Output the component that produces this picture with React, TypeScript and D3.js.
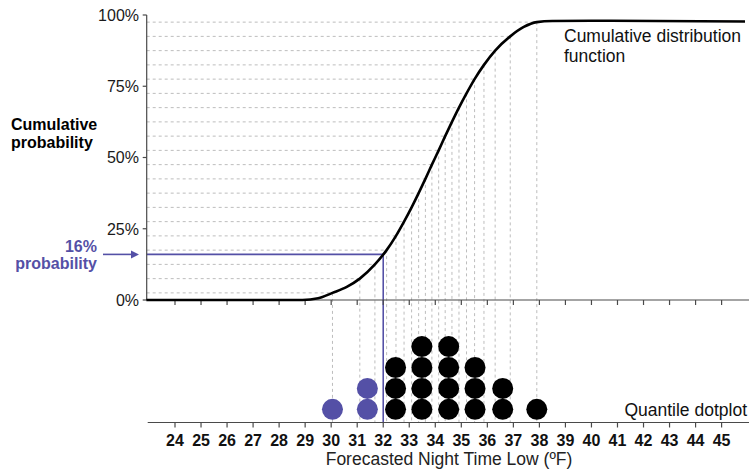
import React from "react";
import * as d3 from "d3";

// ---- data ----
const xTickValues = [24, 25, 26, 27, 28, 29, 30, 31, 32, 33, 34, 35, 36, 37, 38, 39, 40, 41, 42, 43, 44, 45];
const yTickValues = [0, 0.25, 0.5, 0.75, 1];
const yTickLabels = ["0%", "25%", "50%", "75%", "100%"];

// 20 quantiles (probability levels and temperatures)
const quantileProbs = [0.025, 0.075, 0.125, 0.175, 0.225, 0.275, 0.325, 0.375, 0.425, 0.475,
  0.525, 0.575, 0.625, 0.675, 0.725, 0.775, 0.825, 0.875, 0.925, 0.975];
const quantileTemps = [30.05, 31.1, 31.68, 32.13, 32.49, 32.8, 33.09, 33.36, 33.62, 33.87,
  34.13, 34.38, 34.64, 34.91, 35.2, 35.51, 35.87, 36.3, 36.88, 37.9];

// CDF curve points
const cdfTemps = [22.9, 28.9, 29.5, 30.05, 30.6, 31.1, 31.68, 32.13, 32.49, 32.8, 33.09, 33.36, 33.62, 33.87,
  34.13, 34.38, 34.64, 34.91, 35.2, 35.51, 35.87, 36.3, 36.88, 37.4, 37.9, 38.5, 40, 45.9];
const cdfProbs = [0, 0, 0.006, 0.025, 0.046, 0.075, 0.125, 0.175, 0.225, 0.275, 0.325, 0.375, 0.425, 0.475,
  0.525, 0.575, 0.625, 0.675, 0.725, 0.775, 0.825, 0.875, 0.925, 0.958, 0.975, 0.979, 0.98, 0.977];

// dots per column of the quantile dotplot
const dotCounts = [1, 2, 3, 4, 4, 3, 2, 1];

const thresholdTemp = 32;
const thresholdProb = 0.16;

// ---- layout ----
const W = 749;
const H = 471;
const axisX = 146.7;
const topAxisY = 300;
const bottomAxisY = 422.5;
const rightEdge = 749;
const dotR = 10.5;
const dotStep = 20.9;

const BLUE = "#5450a6";
const GRID = "#bdbdbd";
const AXIS = "#4a4a4a";
const FONT = "'Liberation Sans', Arial, Helvetica, sans-serif";

export default function App() {
  const x = d3.scaleLinear().domain([24, 45]).range([175, 721.6]);
  const y = d3.scaleLinear().domain([0, 1]).range([topAxisY, 15]);

  const cdfPts: [number, number][] = cdfTemps.map((t, i) => [t, cdfProbs[i]]);
  const line = d3
    .line<[number, number]>()
    .x((d) => x(d[0]))
    .y((d) => y(d[1]))
    .curve(d3.curveMonotoneX);

  // group quantiles into dot columns
  const columns: { temp: number; count: number; blue: boolean }[] = [];
  let k = 0;
  dotCounts.forEach((c) => {
    const vals = quantileTemps.slice(k, k + c);
    k += c;
    columns.push({
      temp: d3.mean(vals) as number,
      count: c,
      blue: vals.every((v) => v < thresholdTemp),
    });
  });

  const bottomRowY = bottomAxisY - 13.2;

  return (
    <svg
      width={W}
      height={H}
      style={{ position: "absolute", left: 0, top: 0, background: "#fff" }}
      fontFamily={FONT}
    >
      <rect width={W} height={H} fill="#fff" />
      {/* horizontal dashed lines from axis to curve */}
      {quantileProbs.map((p, i) => (
        <line
          key={"h" + i}
          x1={axisX}
          x2={x(quantileTemps[i])}
          y1={y(p)}
          y2={y(p)}
          stroke={GRID}
          strokeWidth={1}
          strokeDasharray="3,3"
        />
      ))}
      {/* vertical dashed lines from curve down to bottom axis */}
      {quantileProbs.map((p, i) => (
        <line
          key={"v" + i}
          x1={x(quantileTemps[i])}
          x2={x(quantileTemps[i])}
          y1={y(p)}
          y2={bottomAxisY}
          stroke={GRID}
          strokeWidth={1}
          strokeDasharray="3,3"
        />
      ))}

      {/* blue threshold lines */}
      <line x1={axisX} x2={x(thresholdTemp)} y1={y(thresholdProb)} y2={y(thresholdProb)} stroke={BLUE} strokeWidth={1.6} />
      <line x1={x(thresholdTemp)} x2={x(thresholdTemp)} y1={y(thresholdProb)} y2={bottomAxisY} stroke={BLUE} strokeWidth={1.6} />

      {/* y axis */}
      <line x1={axisX} x2={axisX} y1={y(1)} y2={topAxisY} stroke={AXIS} strokeWidth={1.2} />
      {yTickValues.map((v, i) => (
        <g key={"yt" + i}>
          <line x1={axisX - 4} x2={axisX} y1={y(v)} y2={y(v)} stroke={AXIS} strokeWidth={1.2} />
          <text x={139} y={y(v)} dy="0.36em" textAnchor="end" fontSize={16} fill="#1a1a1a">
            {yTickLabels[i]}
          </text>
        </g>
      ))}

      {/* top x axis */}
      <line x1={axisX} x2={rightEdge} y1={topAxisY} y2={topAxisY} stroke={AXIS} strokeWidth={1.2} />
      {xTickValues.map((v) => (
        <line key={"tt" + v} x1={x(v)} x2={x(v)} y1={topAxisY} y2={topAxisY + 5} stroke={AXIS} strokeWidth={1.2} />
      ))}

      {/* bottom x axis */}
      <line x1={axisX + 1} x2={rightEdge} y1={bottomAxisY} y2={bottomAxisY} stroke={AXIS} strokeWidth={1.2} />
      {xTickValues.map((v) => (
        <g key={"bt" + v}>
          <line x1={x(v)} x2={x(v)} y1={bottomAxisY} y2={bottomAxisY + 5} stroke={AXIS} strokeWidth={1.2} />
          <text x={x(v)} y={446} textAnchor="middle" fontSize={16} fontWeight="bold" fill="#111">
            {v}
          </text>
        </g>
      ))}

      {/* CDF curve */}
      <path d={line(cdfPts) || ""} fill="none" stroke="#000" strokeWidth={2.6} />

      {/* dots */}
      {columns.map((c, ci) =>
        d3.range(c.count).map((j) => (
          <circle
            key={"d" + ci + "-" + j}
            cx={x(c.temp)}
            cy={bottomRowY - j * dotStep}
            r={dotR}
            fill={c.blue ? BLUE : "#000"}
          />
        ))
      )}

      {/* labels */}
      <text x={11} y={130} fontSize={16} fontWeight="bold" fill="#000">Cumulative</text>
      <text x={11} y={148} fontSize={16} fontWeight="bold" fill="#000">probability</text>

      <text x={97} y={252} textAnchor="end" fontSize={16} fontWeight="bold" fill={BLUE}>16%</text>
      <text x={97} y={269} textAnchor="end" fontSize={16} fontWeight="bold" fill={BLUE}>probability</text>
      <line x1={103} x2={132} y1={y(thresholdProb)} y2={y(thresholdProb)} stroke={BLUE} strokeWidth={1.6} />
      <path
        d={`M${139},${y(thresholdProb)} L${131},${y(thresholdProb) - 4} L${131},${y(thresholdProb) + 4} Z`}
        fill={BLUE}
      />

      <text x={564} y={42} fontSize={17.5} fill="#111">Cumulative distribution</text>
      <text x={564} y={62} fontSize={17.5} fill="#111">function</text>

      <text x={747} y={416} textAnchor="end" fontSize={17.5} fill="#111">Quantile dotplot</text>

      <text x={449} y={465} textAnchor="middle" fontSize={17.5} fill="#222">
        Forecasted Night Time Low (ºF)
      </text>
    </svg>
  );
}
